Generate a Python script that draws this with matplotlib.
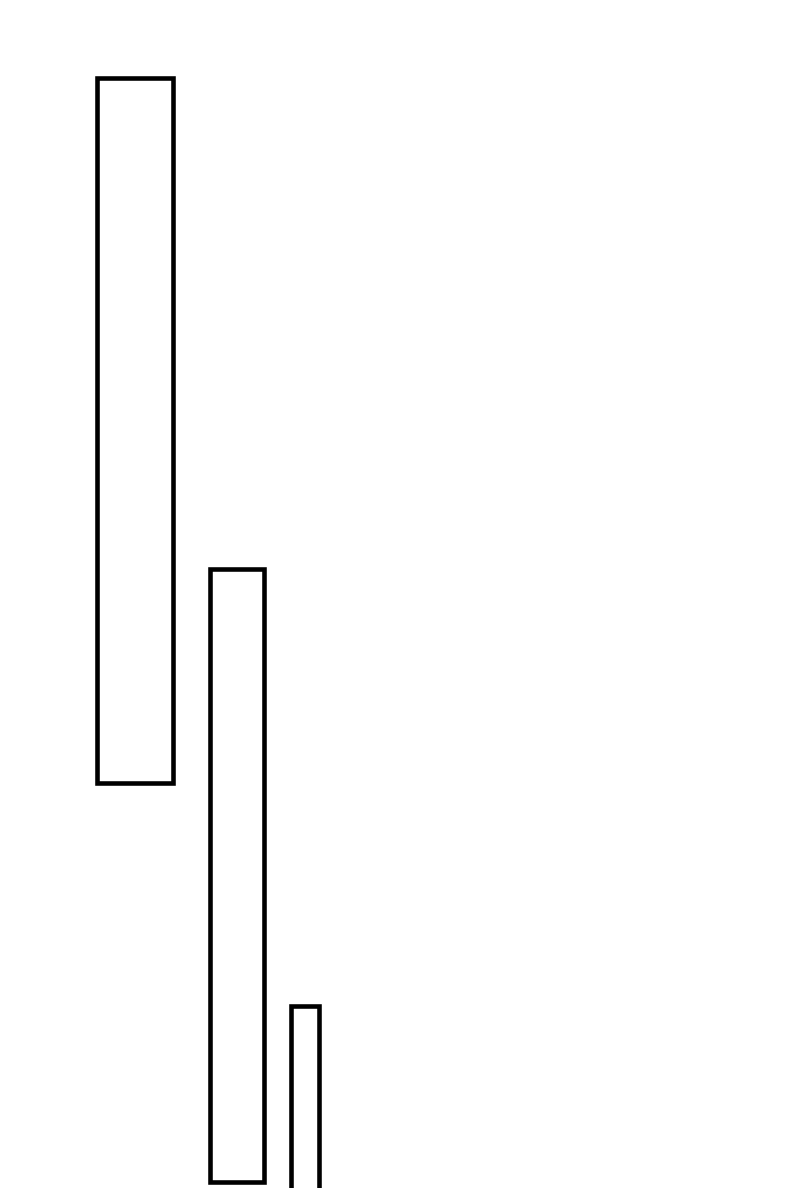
import matplotlib
matplotlib.use("Agg")
import matplotlib.pyplot as plt

# Data (arbitrary units)
categories = ["A", "B", "C"]
lefts = [9.7, 21.0, 29.05]
widths = [7.55, 5.4, 2.85]
bottoms = [40.55, 0.63, -5.0]
heights = [70.5, 61.32, 23.22]

fig = plt.figure(figsize=(8, 11.88), dpi=100)
ax = fig.add_axes([0, 0, 1, 1])
ax.bar(lefts, heights, width=widths, bottom=bottoms, align="edge",
       fill=False, edgecolor="black", linewidth=3.3)
ax.set_xlim(0, 80)
ax.set_ylim(0, 118.8)
ax.axis("off")
fig.savefig("out.png", dpi=100, facecolor="white")
